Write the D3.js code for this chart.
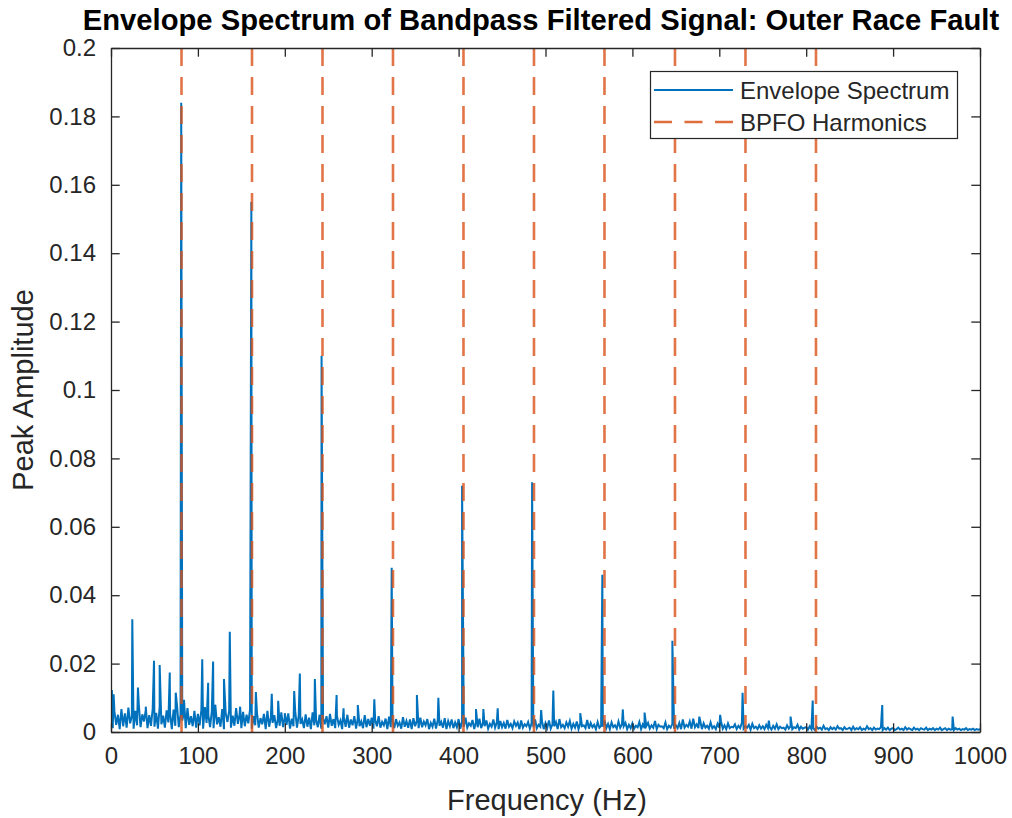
<!DOCTYPE html>
<html><head><meta charset="utf-8">
<script src="https://cdn.jsdelivr.net/npm/d3@7"></script>
<style>
html,body{margin:0;padding:0;background:#fff;}
svg{display:block;font-family:"Liberation Sans",Arial,Helvetica,sans-serif;}
</style></head>
<body>
<svg id="chart" width="1012" height="818"></svg>
<script>
const titleText = "Envelope Spectrum of Bandpass Filtered Signal: Outer Race Fault";
const xLabelText = "Frequency (Hz)";
const yLabelText = "Peak Amplitude";
const legendLabels = ["Envelope Spectrum", "BPFO Harmonics"];
const xTicks = [0,100,200,300,400,500,600,700,800,900,1000];
const yTicks = [0,0.02,0.04,0.06,0.08,0.1,0.12,0.14,0.16,0.18,0.2];
const BPFO = 81.125;
const harmonicOrders = [1,2,3,4,5,6,7,8,9,10];

// noise floor of the envelope spectrum, one value every 2 Hz, in units of 1.4e-4
const noiseStepHz = 2;
const noiseUnit = 1.4e-4;
const noiseFloor = [
30,8,42,15,36,6,48,12,39,9,51,18,33,7,44,14,58,10,37,22,46,8,35,13,49,
11,40,7,53,16,34,9,45,20,38,6,47,13,55,10,36,24,41,8,50,15,33,12,44,9,
38,14,46,7,52,19,35,10,43,8,57,16,31,11,48,6,39,21,45,9,34,13,50,17,37,
8,42,12,36,18,47,7,33,14,40,9,29,16,38,6,44,11,31,19,35,8,27,13,41,10,
32,15,39,7,28,12,43,9,34,17,26,8,37,11,30,6,41,14,25,10,36,7,29,16,33,
9,38,13,27,8,34,15,24,6,31,11,36,9,26,14,33,7,29,12,22,8,35,10,27,13,
30,7,25,12,33,9,21,14,28,6,32,10,24,8,27,13,20,7,31,11,23,9,26,6,29,
12,24,8,30,10,22,14,27,6,19,11,28,7,25,13,21,9,29,6,23,12,26,8,20,10,
27,7,22,11,30,9,18,13,25,6,21,10,28,8,19,12,24,7,17,11,26,9,20,6,23,
10,19,7,25,11,17,8,22,13,20,6,24,9,16,12,21,7,18,10,26,8,15,11,22,6,
19,9,24,7,16,12,21,6,27,10,15,8,20,11,23,7,17,9,22,6,18,12,14,8,25,
7,19,10,15,6,21,9,13,11,24,8,17,6,20,10,14,7,22,9,16,12,19,6,15,8,
18,7,13,10,21,6,16,8,12,19,7,14,9,23,6,15,11,12,8,20,6,13,9,17,7,
14,8,19,6,26,9,15,11,22,7,28,10,16,8,24,6,18,9,13,7,20,8,12,6,17,
9,22,7,14,6,18,8,11,10,16,6,13,8,19,7,12,9,15,5,17,8,11,6,14,7,
12,6,15,8,10,5,13,7,16,6,11,8,9,5,14,7,12,6,10,8,15,5,11,7,9,
10,5,12,6,8,4,11,7,9,5,13,6,8,4,10,6,9,5,12,7,8,4,10,6,7,
9,4,11,5,8,6,10,4,7,5,12,6,8,4,9,5,7,6,10,4,8,5,9,4,7,
8,4,6,9,5,7,4,10,5,8,6,4,9,5,7,4,8,6,5,9,4,7,5,8,4,
7,5,9,4,6,8,4,7,5,6,4,8,5,7,4,6,5,8,4,6,5,7,4,6,5,
6
];

// distinct spectral lines: frequency (Hz) and peak amplitude
const peakFreqs = [1,3,24.5,31,40,49.5,56,67.6,74.5,80.8,84,105,111.8,117.5,130,136.7,148.6,
  161.5,166.7,185,192.4,200,210.8,217.3,234.6,242.3,259.6,267.6,284,303,323,352,376.7,
  404,420,428.5,445,484.6,495,509,540,565.4,589,614,646,677,701,726.8,757,782,807.5,887.5,968.5];
const peakAmps = [0.0123,0.011,0.033,0.013,0.0074,0.0208,0.0196,0.0174,0.0115,0.184,0.0094,0.0213,0.0144,0.0206,0.0155,0.0293,0.0074,
  0.155,0.0117,0.0112,0.0091,0.0055,0.012,0.0171,0.0155,0.110,0.0108,0.0069,0.0079,0.0096,0.048,0.0108,0.010,
  0.072,0.0067,0.0067,0.0069,0.073,0.0064,0.0121,0.0055,0.046,0.0066,0.0057,0.0267,0.0045,0.005,0.0115,0.0033,0.0045,0.0092,0.0079,0.0045];

const svg = d3.select("#chart");
const axisColor = "#262626";
const blue = "#0072BD", orange = "#D95319";
const pLeft = 111, pRight = 980, pTop = 48, pBottom = 732;
const fontFam = '"Liberation Sans",Arial,Helvetica,sans-serif';

const x = d3.scaleLinear().domain([0,1000]).range([pLeft,pRight]);
const y = d3.scaleLinear().domain([0,0.2]).range([pBottom,pTop]);

const spectrum = noiseFloor.map((v,i)=>[i*noiseStepHz, v*noiseUnit])
  .concat(peakFreqs.map((f,i)=>[f, peakAmps[i]]))
  .sort((a,b)=>a[0]-b[0]);

svg.append("defs").append("clipPath").attr("id","clip")
  .append("rect").attr("x",pLeft).attr("y",pTop).attr("width",pRight-pLeft).attr("height",pBottom-pTop);

const plot = svg.append("g").attr("clip-path","url(#clip)");
plot.append("path").datum(spectrum)
  .attr("d", d3.line().x(d=>x(d[0])).y(d=>y(d[1])))
  .attr("fill","none").attr("stroke",blue).attr("stroke-width",2.0).attr("stroke-linejoin","miter");

plot.selectAll("line.h").data(harmonicOrders).enter().append("line")
  .attr("x1",d=>x(d*BPFO)).attr("x2",d=>x(d*BPFO))
  .attr("y1",y(0.2)).attr("y2",y(0))
  .attr("stroke",orange).attr("stroke-opacity",0.8).attr("stroke-width",2.6)
  .attr("stroke-dasharray","18,11");

// axes
const tickLen = 8.7;
const fmtY = d => d===0 ? "0" : String(+d.toFixed(2));
const gx = svg.append("g").attr("transform",`translate(0,${pBottom})`)
  .call(d3.axisBottom(x).tickValues(xTicks).tickSizeInner(-tickLen).tickSizeOuter(0).tickPadding(15).tickFormat(d3.format("d")));
const gxt = svg.append("g").attr("transform",`translate(0,${pTop})`)
  .call(d3.axisTop(x).tickValues(xTicks).tickSizeInner(-tickLen).tickSizeOuter(0).tickFormat(""));
const gy = svg.append("g").attr("transform",`translate(${pLeft},0)`)
  .call(d3.axisLeft(y).tickValues(yTicks).tickSizeInner(-tickLen).tickSizeOuter(0).tickPadding(15).tickFormat(fmtY));
const gyr = svg.append("g").attr("transform",`translate(${pRight},0)`)
  .call(d3.axisRight(y).tickValues(yTicks).tickSizeInner(-tickLen).tickSizeOuter(0).tickFormat(""));
[gx,gxt,gy,gyr].forEach(g=>{
  g.select(".domain").attr("stroke",axisColor).attr("stroke-width",1.3);
  g.selectAll(".tick line").attr("stroke",axisColor).attr("stroke-width",1.3);
  g.selectAll(".tick text").attr("fill",axisColor).style("font-size","24px").style("font-family",fontFam);
});

// title and labels
svg.append("text").attr("x",541).attr("y",30).attr("text-anchor","middle")
  .style("font-size","29.2px").style("font-weight","bold").attr("fill","#000").text(titleText);
svg.append("text").attr("x",547).attr("y",810).attr("text-anchor","middle")
  .style("font-size","29px").attr("fill",axisColor).text(xLabelText);
svg.append("text").attr("transform",`translate(33,${(pTop+pBottom)/2}) rotate(-90)`).attr("text-anchor","middle")
  .style("font-size","29px").attr("fill",axisColor).text(yLabelText);

// legend
const lg = svg.append("g");
lg.append("rect").attr("x",650.5).attr("y",71.5).attr("width",307).attr("height",67)
  .attr("fill","#fff").attr("stroke",axisColor).attr("stroke-width",1.2);
const legendColors = [blue, orange];
const legendDash = [null, "18,12.5"];
legendLabels.forEach((t,i)=>{
  const ly = 90 + i*32;
  lg.append("line").attr("x1",654).attr("x2",733).attr("y1",ly).attr("y2",ly)
    .attr("stroke",legendColors[i]).attr("stroke-width", i===0?1.8:2.4)
    .attr("stroke-opacity", i===0?1:0.85)
    .attr("stroke-dasharray",legendDash[i]);
  lg.append("text").attr("x",740).attr("y",ly+8.5).style("font-size","24px")
    .attr("fill",axisColor).text(t);
});
</script>
</body></html>
